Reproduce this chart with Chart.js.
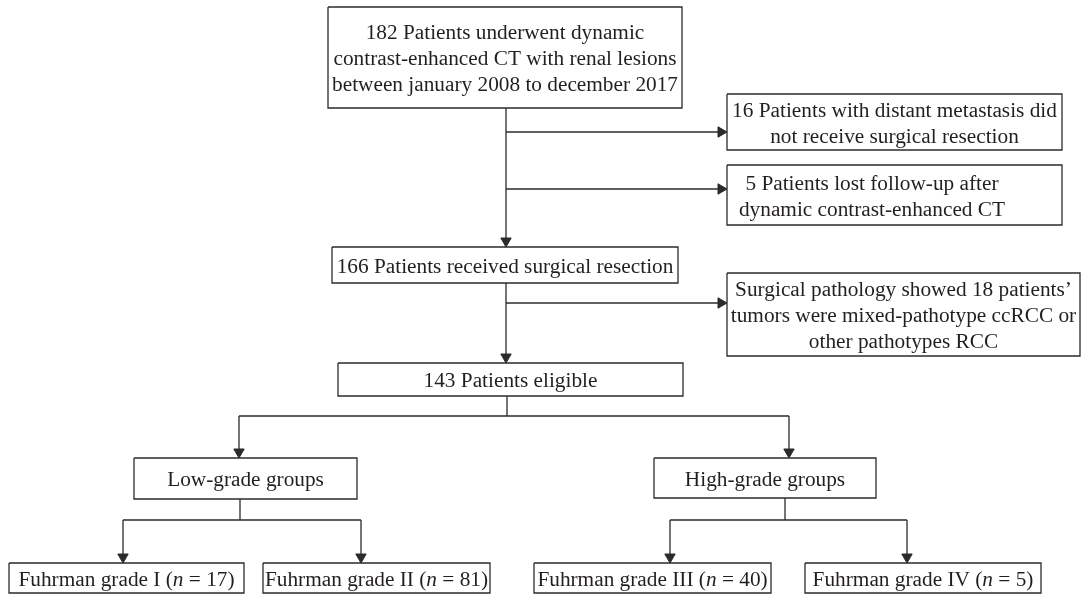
<!DOCTYPE html>
<html lang="en">
<head>
<meta charset="UTF-8">
<script src="https://cdn.jsdelivr.net/npm/chart.js"></script>
<title>Patient selection flowchart</title>
<style>
    html, body { margin: 0; padding: 0; background: #fff; }
    .wrap { width: 1083px; height: 595px; position: relative; }
</style>
</head>
<body>
<div class="wrap"><canvas id="flow"></canvas></div>

<script>
    // texts of the boxes, top to bottom
    const boxText = [
        ['182 Patients underwent dynamic', 'contrast-enhanced CT with renal lesions', 'between january 2008 to december 2017'],
        ['16 Patients with distant metastasis did', 'not receive surgical resection'],
        ['5 Patients lost follow-up after', 'dynamic contrast-enhanced CT'],
        ['166 Patients received surgical resection'],
        ['Surgical pathology showed 18 patients\u2019', 'tumors were mixed-pathotype ccRCC or', 'other pathotypes RCC'],
        ['143 Patients eligible'],
        ['Low-grade groups'],
        ['High-grade groups']
    ];
    const gradeNames = ['Fuhrman grade I', 'Fuhrman grade II', 'Fuhrman grade III', 'Fuhrman grade IV'];
    const gradeCounts = [17, 81, 40, 5];

    // layout, in page units (x0, y0, x1, y1) and an optional text centre
    const boxLayout = [
        [328, 7, 682, 108],
        [727, 94, 1062, 150],
        [727, 165, 1062, 225, 872],
        [332, 247, 678, 283],
        [727, 273, 1080, 356],
        [338, 363, 683, 396],
        [134, 458, 357, 499],
        [654, 458, 876, 498],
        [9, 563, 244, 593],
        [263, 563, 490, 593],
        [534, 563, 771, 593],
        [805, 563, 1041, 593]
    ];
    // connectors: points, and arrow direction at the end (null = plain line)
    const links = [
        [[[506, 108], [506, 247]], 'down'],
        [[[506, 132], [727, 132]], 'right'],
        [[[506, 189], [727, 189]], 'right'],
        [[[506, 283], [506, 363]], 'down'],
        [[[506, 303], [727, 303]], 'right'],
        [[[507, 396], [507, 416]], null],
        [[[239, 416], [789, 416]], null],
        [[[239, 416], [239, 458]], 'down'],
        [[[789, 416], [789, 458]], 'down'],
        [[[240, 499], [240, 520]], null],
        [[[123, 520], [361, 520]], null],
        [[[123, 520], [123, 563]], 'down'],
        [[[361, 520], [361, 563]], 'down'],
        [[[785, 498], [785, 520]], null],
        [[[670, 520], [907, 520]], null],
        [[[670, 520], [670, 563]], 'down'],
        [[[907, 520], [907, 563]], 'down']
    ];

    const lineColor = '#2b2b2b';
    const textColor = '#231f20';
    const headR = 6;
    const fontSize = 21.3;
    const fontFamily = '"Liberation Serif", "DejaVu Serif", serif';

    const allText = boxText.concat(gradeNames.map((g, i) => [g + ' (*n* = ' + gradeCounts[i] + ')']));

    const datasets = [];

    boxLayout.forEach(b => {
        datasets.push({
            data: [
                {x: b[0], y: b[1]}, {x: b[2], y: b[1]}, {x: b[2], y: b[3]},
                {x: b[0], y: b[3]}, {x: b[0], y: b[1]}
            ],
            showLine: true,
            clip: false,
            borderColor: lineColor,
            borderWidth: 1.3,
            borderJoinStyle: 'miter',
            pointRadius: 0
        });
    });

    links.forEach(l => {
        const pts = l[0].map(p => ({x: p[0], y: p[1]}));
        const dir = l[1];
        const radii = pts.map(() => 0);
        if (dir) {
            const last = pts[pts.length - 1];
            if (dir === 'down') last.y -= headR;
            if (dir === 'right') last.x -= headR;
            radii[radii.length - 1] = headR;
        }
        datasets.push({
            data: pts,
            showLine: true,
            clip: false,
            borderColor: lineColor,
            borderWidth: 1.3,
            pointRadius: radii,
            pointStyle: 'triangle',
            rotation: dir === 'right' ? 90 : 180,
            pointBackgroundColor: lineColor,
            pointBorderColor: lineColor,
            pointBorderWidth: 1
        });
    });

    // writes the box texts, with *...* in italics
    const boxLabels = {
        id: 'boxLabels',
        afterDatasetsDraw(chart) {
            const ctx = chart.ctx;
            const sx = chart.scales.x;
            const sy = chart.scales.y;
            const lh = 26;
            ctx.save();
            ctx.fillStyle = textColor;
            ctx.textBaseline = 'middle';
            ctx.textAlign = 'left';
            allText.forEach((lines, i) => {
                const b = boxLayout[i];
                const cx = sx.getPixelForValue(b[4] !== undefined ? b[4] : (b[0] + b[2]) / 2);
                const cy = sy.getPixelForValue((b[1] + b[3]) / 2) + 2;
                lines.forEach((line, k) => {
                    const parts = line.split('*');
                    let w = 0;
                    parts.forEach((p, j) => {
                        ctx.font = (j % 2 ? 'italic ' : '') + fontSize + 'px ' + fontFamily;
                        w += ctx.measureText(p).width;
                    });
                    let x = cx - w / 2;
                    const y = cy + (k - (lines.length - 1) / 2) * lh;
                    parts.forEach((p, j) => {
                        ctx.font = (j % 2 ? 'italic ' : '') + fontSize + 'px ' + fontFamily;
                        ctx.fillText(p, x, y);
                        x += ctx.measureText(p).width;
                    });
                });
            });
            ctx.restore();
        }
    };

    new Chart(document.getElementById('flow'), {
        type: 'scatter',
        data: { datasets: datasets },
        options: {
            responsive: true,
            maintainAspectRatio: false,
            animation: false,
            events: [],
            layout: { padding: 0, autoPadding: false },
            plugins: {
                legend: { display: false },
                tooltip: { enabled: false }
            },
            scales: {
                x: { display: false, min: 0, max: 1083 },
                y: { display: false, min: 0, max: 595, reverse: true }
            }
        },
        plugins: [boxLabels]
    });
</script>
</body>
</html>
